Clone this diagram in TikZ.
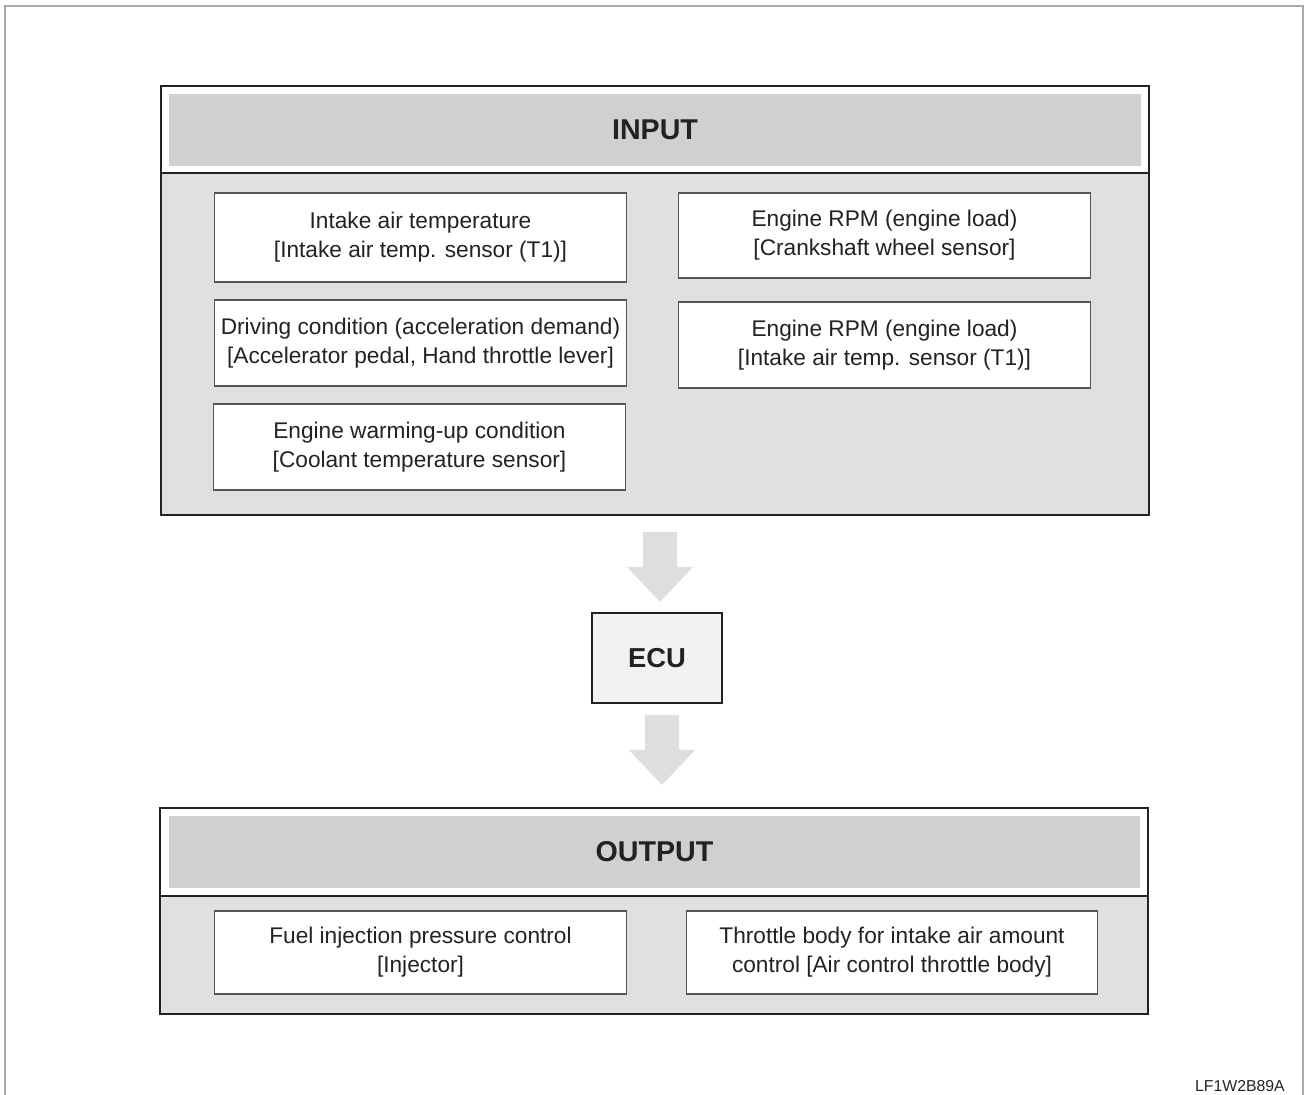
\documentclass[tikz,border=0pt]{standalone}
\usepackage{fontspec}
\setmainfont{Liberation Sans}
\usepackage{tikz}
\usetikzlibrary{positioning,calc}
\usepackage{xcolor}
\definecolor{frameline}{HTML}{AAAAAA}
\definecolor{edge}{HTML}{222222}
\definecolor{subedge}{HTML}{555555}
\definecolor{headfill}{HTML}{D0D0D0}
\definecolor{bodyfill}{HTML}{E0E0E0}
\definecolor{arrowfill}{HTML}{DEDEDE}
\definecolor{ecufill}{HTML}{F2F2F2}
\tikzset{
  section/.style={draw=edge, line width=1.4pt, minimum width=19.76cm, outer sep=0pt},
  headband/.style={fill=headfill, minimum width=19.44cm, minimum height=1.44cm,
              font=\fontsize{16.3}{19}\selectfont\bfseries, text=edge},
  sensorbox/.style={draw=subedge, fill=white, line width=0.6pt, align=center,
              minimum width=8.26cm, minimum height=1.72cm, text=edge,
              font=\fontsize{12.9}{16.5}\selectfont},
  ecubox/.style={draw=edge, fill=ecufill, line width=1.4pt, minimum width=2.6cm,
              minimum height=1.8cm, outer sep=0pt,
              font=\fontsize{15.6}{19}\selectfont\bfseries, text=edge},
}

\begin{document}
\begin{tikzpicture}[x=0.02cm, y=-0.02cm]
\useasboundingbox (0,0) rectangle (1306,1095);
% page frame, open at the bottom
\draw[frameline, line width=0.85pt] (5,1095) -- (5,6) -- (1303,6) -- (1303,1095);
% input section
\fill[white] (161,86) rectangle (1149,173);
\fill[bodyfill] (161,173) rectangle (1149,515);
\node[section, minimum height=8.58cm] (input) at (655,300.5) {};
\draw[edge, line width=1.4pt] (161,173) -- (1149,173);
\node[headband] (inhead) at (655,130) {INPUT};
\node[sensorbox, minimum height=1.78cm] (airtemp) at (420.5,237.5)
  {Intake air temperature\\{}[Intake air temp. sensor (T1)]};
\node[sensorbox, minimum height=1.7cm] (rpmcrank) at (884.5,235.5)
  {Engine RPM (engine load)\\{}[Crankshaft wheel sensor]};
\node[sensorbox] (driving) at (420.5,343)
  {Driving condition (acceleration demand)\\{}[Accelerator pedal, Hand throttle lever]};
\node[sensorbox] (rpmtemp) at (884.5,345)
  {Engine RPM (engine load)\\{}[Intake air temp. sensor (T1)]};
\node[sensorbox] (warmup) at (419.5,447)
  {Engine warming-up condition\\{}[Coolant temperature sensor]};
% ecu
\node[ecubox] (ecu) at (657,658) {ECU};
% output section
\fill[white] (160,808) rectangle (1148,896);
\fill[bodyfill] (160,896) rectangle (1148,1014);
\node[section, minimum width=19.76cm, minimum height=4.12cm] (output) at (654,911) {};
\draw[edge, line width=1.4pt] (160,896) -- (1148,896);
\node[headband] (outhead) at (654.5,852) {OUTPUT};
\node[sensorbox, minimum height=1.66cm] (injector) at (420.5,952.5)
  {Fuel injection pressure control\\{}[Injector]};
\node[sensorbox, minimum width=8.24cm, minimum height=1.66cm] (throttle) at (892,952.5)
  {Throttle body for intake air amount\\control [Air control throttle body]};
% flow arrows
\foreach \from/\gap in {input/17, ecu/12}
  \fill[arrowfill] ($(\from.south)+(-12,\gap)$) -- ++(34,0) -- ++(0,35) -- ++(16,0)
    -- ++(-33,35) -- ++(-33,-35) -- ++(16,0) -- cycle;
% figure code
\node[anchor=east, font=\fontsize{9}{11}\selectfont, text=edge] (figcode) at (1291,1086) {LF1W2B89A};
\end{tikzpicture}
\end{document}
